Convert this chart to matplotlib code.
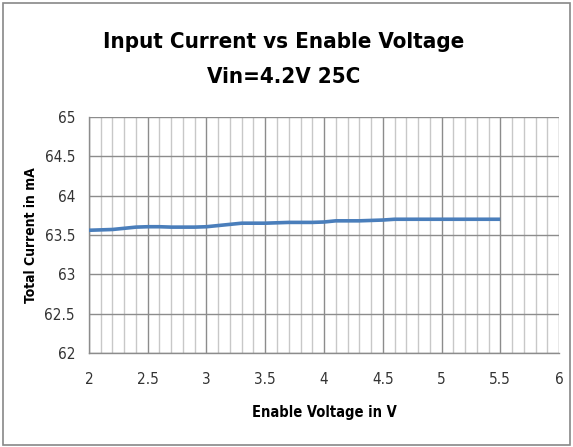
import matplotlib.pyplot as plt
import numpy as np
from matplotlib.patches import Rectangle

plt.rcParams['font.family'] = ['DejaVu Sans']

# Enable voltage sweep (V) and total input current (mA)
enable_v = [2.0, 2.1, 2.2, 2.3, 2.4, 2.5, 2.6, 2.7, 2.8, 2.9,
            3.0, 3.1, 3.2, 3.3, 3.4, 3.5, 3.6, 3.7, 3.8, 3.9,
            4.0, 4.1, 4.2, 4.3, 4.4, 4.5, 4.6, 4.7, 4.8, 4.9,
            5.0, 5.1, 5.2, 5.3, 5.4, 5.5]
current_ma = [63.56, 63.565, 63.57, 63.585, 63.60, 63.605, 63.605, 63.60, 63.60, 63.60,
              63.605, 63.62, 63.635, 63.65, 63.65, 63.65, 63.655, 63.66, 63.66, 63.66,
              63.665, 63.68, 63.68, 63.68, 63.685, 63.69, 63.70, 63.70, 63.70, 63.70,
              63.70, 63.70, 63.70, 63.70, 63.70, 63.70]

x_ticks = [2, 2.5, 3, 3.5, 4, 4.5, 5, 5.5, 6]
x_labels = ['2', '2.5', '3', '3.5', '4', '4.5', '5', '5.5', '6']
y_ticks = [62, 62.5, 63, 63.5, 64, 64.5, 65]
y_labels = ['62', '62.5', '63', '63.5', '64', '64.5', '65']

fig = plt.figure(figsize=(5.73, 4.47), dpi=100)
ax = fig.add_axes([0.1553, 0.2103, 0.8203, 0.528])

# outer chart frame
fig.patches.append(Rectangle((0.005, 0.004), 0.99, 0.99, transform=fig.transFigure,
                             fill=False, edgecolor='#888888', linewidth=1.2))

ax.plot(enable_v, current_ma, color='#4a7ebb', linewidth=2.6, solid_capstyle='butt', zorder=3)

ax.set_xlim(2, 6)
ax.set_ylim(62, 65)
ax.set_xticks(x_ticks)
ax.set_xticklabels(x_labels, fontstretch='condensed')
ax.set_yticks(y_ticks)
ax.set_yticklabels(y_labels, fontstretch='condensed')
ax.set_xticks(np.arange(2, 6.01, 0.1), minor=True)

ax.grid(True, which='major', axis='both', color='#8c8c8c', linewidth=1.0)
ax.grid(True, which='minor', axis='x', color='#c8c8c8', linewidth=1.0)
ax.set_axisbelow(True)

for side in ['top', 'right']:
    ax.spines[side].set_visible(False)
for side in ['left', 'bottom']:
    ax.spines[side].set_color('#8c8c8c')
    ax.spines[side].set_linewidth(1.0)

ax.tick_params(which='both', length=0, labelsize=11, colors='#333333', pad=14)
ax.tick_params(axis='y', pad=10)

ax.set_xlabel('Enable Voltage in V', fontsize=10.5, fontweight='bold',
              fontstretch='condensed', labelpad=13)
ax.set_ylabel('Total Current in mA', fontsize=10, fontweight='bold',
              fontstretch='condensed')
ax.yaxis.set_label_coords(-0.108, 0.5)

fig.text(0.495, 0.907, 'Input Current vs Enable Voltage', ha='center', va='center',
         fontsize=16, fontweight='bold', fontstretch='condensed')
fig.text(0.495, 0.827, 'Vin=4.2V 25C', ha='center', va='center',
         fontsize=16, fontweight='bold', fontstretch='condensed')

plt.savefig('out.png', dpi=100)
plt.close()
